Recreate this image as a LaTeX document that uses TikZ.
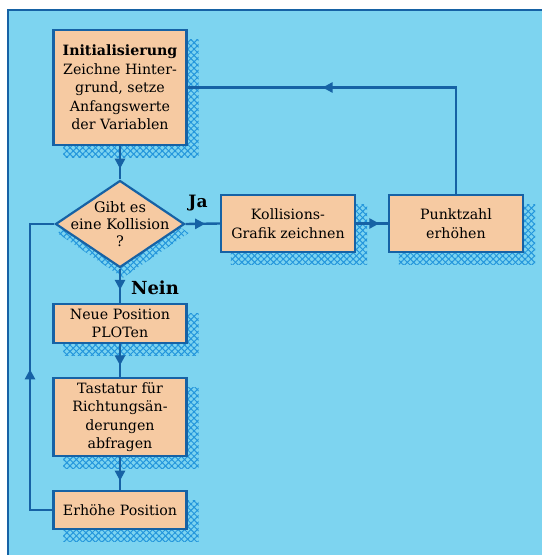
\documentclass[tikz,border=0pt]{standalone}
\usepackage{fontspec}
\setmainfont{DejaVu Serif}
\usetikzlibrary{shapes.geometric,arrows.meta,decorations.markings,patterns.meta,calc}
\definecolor{bgblue}{RGB}{125,212,240}
\definecolor{lineblue}{RGB}{22,98,165}
\definecolor{peach}{RGB}{246,202,162}
\definecolor{meshblue}{RGB}{35,150,220}
\pgfdeclarelayer{backl}
\pgfdeclarelayer{shadowl}
\pgfsetlayers{backl,shadowl,main}
\tikzset{
  box/.style={draw=lineblue, line width=2.2pt, fill=peach, minimum width=133pt, inner sep=0pt, align=center, font=\fontsize{14.2}{18.5}\selectfont},
  conn/.style={draw=lineblue, color=lineblue, line width=2.4pt},
  arrowat/.style={postaction={decorate}, decoration={markings, mark=at position #1 with {\arrow{Triangle[length=10pt,width=10pt]}}}},
  meshA/.style={pattern={Lines[angle=45,distance=4.5pt,line width=1pt]}, pattern color=meshblue},
  meshB/.style={pattern={Lines[angle=-45,distance=4.5pt,line width=1pt]}, pattern color=meshblue},
  lbl/.style={inner sep=0pt, text=black, font=\fontsize{17}{18}\selectfont\bfseries},
  dtext/.style={inner sep=0pt, align=center, font=\fontsize{14.5}{17}\selectfont},
}
\begin{document}
\begin{tikzpicture}[x=1pt,y=-1pt]
\useasboundingbox (0,0) rectangle (542,555);
\begin{pgfonlayer}{backl}
  \fill[bgblue] (8,10) rectangle (542,555);
  \draw[lineblue, line width=1.5pt] (8,555) -- (8,10) -- (542,10);
\end{pgfonlayer}

\node[box, minimum height=115pt] (init) at (120,87.5)
  {{\bfseries Initialisierung}\\Zeichne Hinter-\\grund, setze\\Anfangswerte\\der Variablen};
\node[diamond, draw=lineblue, line width=2.2pt, fill=peach, minimum width=129pt, minimum height=87pt, inner sep=0pt] (dia) at (120,224) {};
\node[dtext] (diatext) at (dia.center) {Gibt es\\eine Kollision\\?};
\node[box, minimum width=134pt, minimum height=57pt] (koll) at (288,223.5) {Kollisions-\\Grafik zeichnen};
\node[box, minimum width=134pt, minimum height=57pt] (punkt) at (456,223.5) {Punktzahl\\erhöhen};
\node[box, minimum height=39pt] (neue) at (120,323.5) {Neue Position\\PLOTen};
\node[box, minimum height=78pt] (tast) at (120,417) {Tastatur für\\Richtungsän-\\derungen\\abfragen};
\node[box, minimum height=38pt] (erh) at (120,510) {Erhöhe Position};

\node[lbl] (ja) at (198,203) {Ja};
\node[lbl, font=\fontsize{18}{18}\selectfont\bfseries] (nein) at (155,288) {Nein};

\begin{pgfonlayer}{shadowl}
  \foreach \n in {init,koll,punkt,neue,tast,erh} {
    \fill[meshA] ($(\n.south west)+(11,11)$) rectangle ($(\n.north east)+(11,11)$);
    \fill[meshB] ($(\n.south west)+(11,11)$) rectangle ($(\n.north east)+(11,11)$);
  }
  \fill[meshA] ($(dia.north)+(3,9)$) -- ($(dia.east)+(3,9)$) -- ($(dia.south)+(3,9)$) -- ($(dia.west)+(3,9)$) -- cycle;
  \fill[meshB] ($(dia.north)+(3,9)$) -- ($(dia.east)+(3,9)$) -- ($(dia.south)+(3,9)$) -- ($(dia.west)+(3,9)$) -- cycle;
\end{pgfonlayer}

\coordinate (lc) at (30,510);
\draw[conn, arrowat=0.68] (init.south) -- (dia.north);
\draw[conn, arrowat=0.57] (dia.east) -- (koll.west);
\draw[conn, arrowat=0.73] (koll.east) -- (punkt.west);
\draw[conn, arrowat=0.64] (punkt.north) |- (init.east);
\draw[conn, arrowat=0.62] (dia.south) -- (neue.north);
\draw[conn, arrowat=0.65] (neue.south) -- (tast.north);
\draw[conn, arrowat=0.72] (tast.south) -- (erh.north);
\draw[conn, arrowat=0.49] (erh.west) -- (lc) |- (dia.west);
\end{tikzpicture}
\end{document}
